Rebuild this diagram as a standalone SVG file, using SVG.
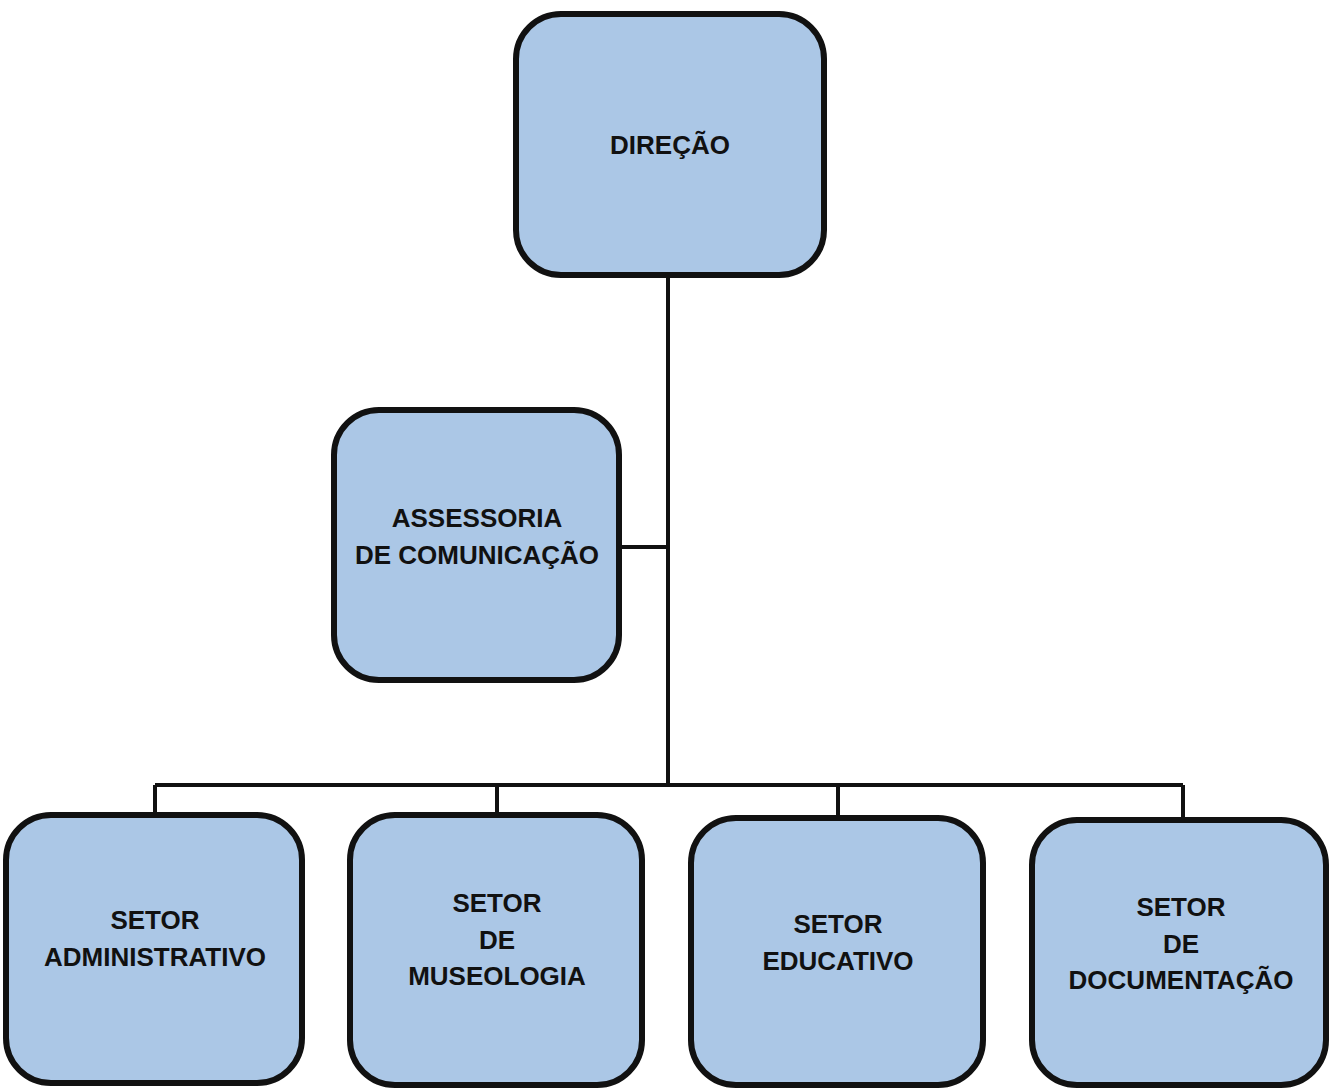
<svg xmlns="http://www.w3.org/2000/svg" width="1330" height="1088" viewBox="0 0 1330 1088">
<style>
.box{fill:#abc7e6;stroke:#111;stroke-width:6}
.lbl{font-family:"Liberation Sans",Arial,sans-serif;font-weight:bold;font-size:26px;fill:#111;text-anchor:middle}
.con{fill:none;stroke:#111;stroke-width:4}
</style>
<rect width="1330" height="1088" fill="#fff"/>
<g id="connectors">
<path class="con" d="M668 275 V785"/>
<path class="con" d="M619 547 H668"/>
<path class="con" d="M155 785 H1183"/>
<path class="con" d="M155 785 V815"/>
<path class="con" d="M497 785 V815"/>
<path class="con" d="M838 785 V818"/>
<path class="con" d="M1183 785 V820"/>
</g>
<g id="direcao">
<rect class="box" x="516" y="14" width="308" height="261" rx="45"/>
<text class="lbl" x="670" y="154">DIREÇÃO</text>
</g>
<g id="assessoria">
<rect class="box" x="334" y="410" width="285" height="270" rx="45"/>
<text class="lbl" x="477" y="527">ASSESSORIA</text>
<text class="lbl" x="477" y="564">DE COMUNICAÇÃO</text>
</g>
<g id="setor-administrativo">
<rect class="box" x="6" y="815" width="296" height="268" rx="45"/>
<text class="lbl" x="155" y="929">SETOR</text>
<text class="lbl" x="155" y="966">ADMINISTRATIVO</text>
</g>
<g id="setor-museologia">
<rect class="box" x="350" y="815" width="292" height="270" rx="45"/>
<text class="lbl" x="497" y="912">SETOR</text>
<text class="lbl" x="497" y="949">DE</text>
<text class="lbl" x="497" y="985">MUSEOLOGIA</text>
</g>
<g id="setor-educativo">
<rect class="box" x="691" y="818" width="292" height="267" rx="45"/>
<text class="lbl" x="838" y="933">SETOR</text>
<text class="lbl" x="838" y="970">EDUCATIVO</text>
</g>
<g id="setor-documentacao">
<rect class="box" x="1032" y="820" width="294" height="265" rx="45"/>
<text class="lbl" x="1181" y="916">SETOR</text>
<text class="lbl" x="1181" y="953">DE</text>
<text class="lbl" x="1181" y="989">DOCUMENTAÇÃO</text>
</g>
</svg>
